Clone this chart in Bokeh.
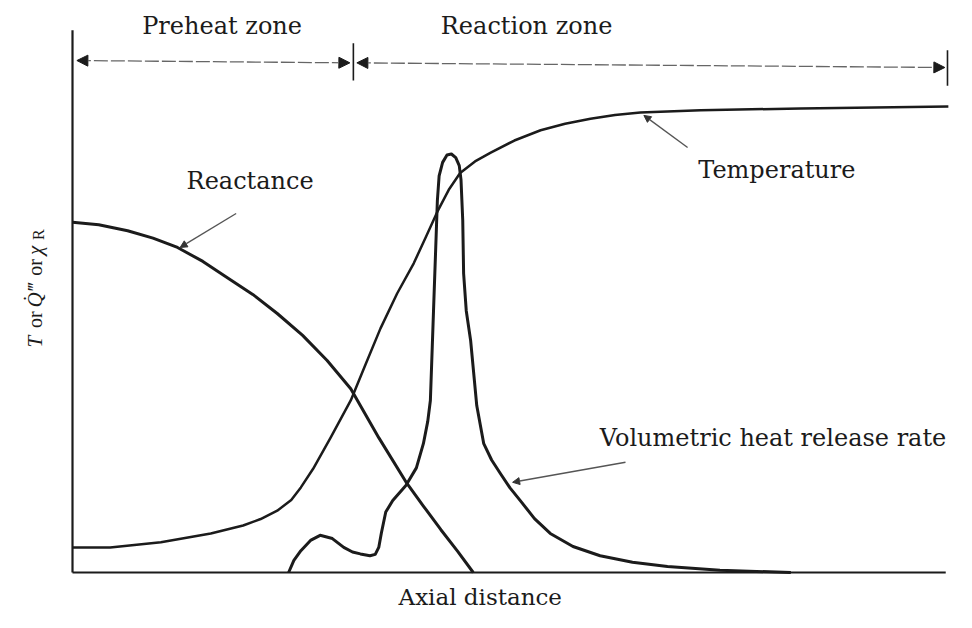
import math
from bokeh.plotting import figure
from bokeh.models import Range1d, Arrow, NormalHead
from bokeh.core.properties import value
from bokeh.embed import file_html
from bokeh.resources import INLINE

# ---- data (axial distance 0..100, normalized level 0..100) ----
temp_x = [0, 4.3, 10.1, 15.8, 19.5, 21.5, 23.4, 25.0, 26.1, 27.5, 29.5, 31.8, 33.5, 35.2,
          37.1, 39.0, 40.4, 41.7, 43.0, 44.3, 46.0, 47.8, 50.5, 53.5, 56.3, 59.2, 62.0,
          64.9, 71.8, 83.2, 100.1]
temp_y = [5.4, 5.4, 6.5, 8.4, 10.1, 11.5, 13.3, 15.6, 18.3, 22.3, 29.0, 37.0, 44.8, 52.5,
          60.0, 66.5, 72.2, 77.6, 82.3, 85.9, 88.4, 90.3, 92.9, 95.1, 96.5, 97.6, 98.4,
          98.9, 99.4, 99.8, 100.2]

react_x = [0, 3.0, 6.3, 9.2, 12.0, 14.9, 17.7, 20.6, 23.4, 26.3, 29.1, 31.8, 35.0,
           38.1, 40.1, 42.1, 44.0, 45.8]
react_y = [75.3, 74.8, 73.5, 71.9, 69.9, 66.9, 63.4, 59.8, 55.7, 51.0, 45.6, 39.5, 29.0,
           19.5, 14.3, 9.2, 4.6, 0]

hrr_x = [24.7, 25.3, 26.1, 27.2, 28.3, 29.7, 31.0, 32.0, 32.9, 34.0, 34.6, 35.0, 35.3,
         35.8, 36.6, 38.1, 39.3, 40.1, 40.6, 40.9, 41.1, 41.3, 41.5, 41.7, 41.9, 42.3,
         42.8, 43.3, 43.8, 44.2, 44.4, 44.6, 44.7, 45.0, 45.5, 46.2, 47.0, 47.9, 48.9,
         50.0, 51.2, 52.8, 54.6, 57.2, 60.3, 64.0, 68.0, 74.0, 82.1]
hrr_y = [0, 2.6, 4.7, 6.9, 8.0, 7.3, 5.4, 4.4, 4.0, 3.6, 3.9, 5.4, 8.5,
         13.0, 15.5, 18.7, 22.5, 27.7, 32.5, 37.0, 47.7, 58.5, 69.2, 80.0, 85.3, 88.2,
         89.8, 90.0, 89.2, 87.5, 84.5, 75.7, 64.3, 56.3, 49.9, 35.9, 27.7, 24.2, 21.3,
         18.2, 15.4, 11.6, 8.4, 5.6, 3.6, 2.2, 1.3, 0.5, 0]

zone_names = ["Preheat zone", "Reaction zone"]
zone_bounds = [0.0, 32.1, 100.0]

curve_labels = ["Reactance", "Temperature", "Volumetric  heat release rate"]

FONT = "DejaVu Serif"
INK = "#1b1b1b"
GREY = "#555555"

p = figure(width=956, height=612,
           x_range=Range1d(-8.229, 101.03), y_range=Range1d(-8.60, 123.01),
           output_backend="svg", toolbar_location=None, min_border=0,
           x_axis_location=None, y_axis_location=None)
p.grid.visible = False
p.outline_line_color = None
p.background_fill_color = "white"

# axes lines
p.segment(x0=[0, 0], y0=[0, 0], x1=[0, 99.8], y1=[116.6, 0],
          line_color=INK, line_width=2.2)

# zone boundary ticks
p.segment(x0=[zone_bounds[1], zone_bounds[2]], y0=[105.8, 104.7],
          x1=[zone_bounds[1], zone_bounds[2]], y1=[113.8, 112.3],
          line_color=INK, line_width=1.6)

# zone arrows
zone_arrows = [(0.5, 110.1, 31.7, 109.6), (32.5, 109.6, 99.7, 108.6)]
for xs, ys, xe, ye in zone_arrows:
    p.add_layout(Arrow(
        start=NormalHead(size=11, fill_color=INK, line_color=INK, line_width=1),
        end=NormalHead(size=11, fill_color=INK, line_color=INK, line_width=1),
        x_start=xs, y_start=ys, x_end=xe, y_end=ye,
        line_color="#666666", line_width=1.3, line_dash="14 3"))

# curves
p.line(temp_x, temp_y, line_color=INK, line_width=2.5, line_join="round")
p.line(react_x, react_y, line_color=INK, line_width=3, line_join="round")
p.line(hrr_x, hrr_y, line_color=INK, line_width=3, line_join="round")

# label arrows
label_arrows = [(18.7, 77.2, 12.3, 69.9), (70.3, 91.4, 65.3, 98.3), (63.2, 23.7, 50.3, 19.4)]
for xs, ys, xe, ye in label_arrows:
    p.add_layout(Arrow(
        end=NormalHead(size=7, fill_color="#333333", line_color="#333333", line_width=1),
        x_start=xs, y_start=ys, x_end=xe, y_end=ye,
        line_color=GREY, line_width=1.4))

# zone texts
p.text(x=[17.1, 51.9], y=[117.6, 117.6], text=zone_names,
       text_font=value(FONT), text_font_size="24px", text_color=INK,
       text_align="center", text_baseline="alphabetic")

# curve labels
p.text(x=[20.3, 80.5, 80.5], y=[84.3, 86.6, 29.0], text=curve_labels,
       text_font=value(FONT), text_font_size="24px", text_color=INK,
       text_align="center", text_baseline="alphabetic")

# x axis title
p.text(x=[46.6], y=[-5.2], text=["Axial distance"],
       text_font=value(FONT), text_font_size="23px", text_color=INK,
       text_align="center", text_baseline="alphabetic")

# y axis title (rotated pieces)
ang = math.pi / 2
p.text(x=[-4.34, -4.34], y=[48.4, 57.0], text=["T", "Q\u0307\u2034"],
       angle=ang, text_font=value("Liberation Serif"), text_font_style="italic",
       text_font_size="21px", text_color=INK, text_align="left", text_baseline="alphabetic")
p.text(x=[-4.34, -4.34], y=[52.6, 63.8], text=["or", "or"],
       angle=ang, text_font=value("Liberation Serif"),
       text_font_size="20px", text_color=INK, text_align="left", text_baseline="alphabetic")
p.text(x=[-4.34], y=[68.3], text=["\u03c7"],
       angle=ang, text_font=value("Liberation Serif"), text_font_style="italic",
       text_font_size="21px", text_color=INK, text_align="left", text_baseline="alphabetic")
p.text(x=[-3.85], y=[71.5], text=["R"],
       angle=ang, text_font=value("Liberation Serif"),
       text_font_size="16px", text_color=INK, text_align="left", text_baseline="alphabetic")

open("out.html", "w").write(file_html(p, INLINE))
